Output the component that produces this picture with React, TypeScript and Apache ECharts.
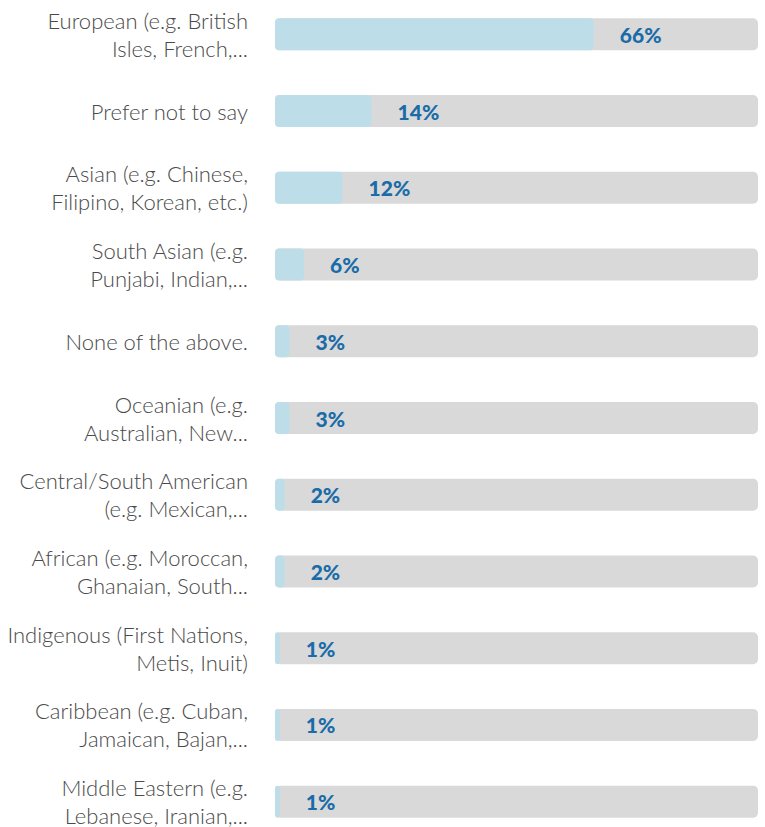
import React, { useEffect, useRef } from "react";
import * as echarts from "echarts";

const categories = [
  "European (e.g. British\nIsles, French,...",
  "Prefer not to say",
  "Asian (e.g. Chinese,\nFilipino, Korean, etc.)",
  "South Asian (e.g.\nPunjabi, Indian,...",
  "None of the above.",
  "Oceanian (e.g.\nAustralian, New...",
  "Central/South American\n(e.g. Mexican,...",
  "African (e.g. Moroccan,\nGhanaian, South...",
  "Indigenous (First Nations,\nMetis, Inuit)",
  "Caribbean (e.g. Cuban,\nJamaican, Bajan,...",
  "Middle Eastern (e.g.\nLebanese, Iranian,...",
];

// bar fill lengths as drawn (percent of the full track)
const barValues = [66, 20, 14, 6, 3, 3, 2, 2, 1, 1, 1];
// value labels as printed
const valueLabels = ["66%", "14%", "12%", "6%", "3%", "3%", "2%", "2%", "1%", "1%", "1%"];

export default function App() {
  const ref = useRef<HTMLDivElement>(null);
  useEffect(() => {
    if (!ref.current) return;
    const chart = echarts.init(ref.current, null, { renderer: "svg" });
    chart.setOption({
      animation: false,
      grid: { left: 275, right: 7, top: 0, bottom: 0, containLabel: false },
      xAxis: { type: "value", min: 0, max: 100, show: false },
      yAxis: {
        type: "category",
        inverse: true,
        data: categories,
        axisLine: { show: false },
        axisTick: { show: false },
        splitLine: { show: false },
        axisLabel: {
          margin: 27,
          fontSize: 22,
          lineHeight: 28,
          fontFamily: "Lato",
          fontWeight: 300,
          color: "#4a4a4a",
          align: "right",
        },
      },
      series: [
        {
          type: "bar",
          data: barValues,
          barWidth: 32,
          itemStyle: { color: "#bddde8", borderRadius: 4 },
          showBackground: true,
          backgroundStyle: { color: "#d9d9d9", borderRadius: 5 },
          label: {
            show: true,
            position: "right",
            distance: 26,
            formatter: (p: any) => valueLabels[p.dataIndex],
            color: "#1a6ca8",
            fontSize: 21,
            fontWeight: 900,
            fontFamily: "Lato",
          },
        },
      ],
    });
    return () => chart.dispose();
  }, []);
  return (
    <div
      style={{ position: "fixed", left: 0, top: 0, width: 765, height: 827, overflow: "hidden", background: "#fff" }}
    >
      <div
        ref={ref}
        style={{ position: "absolute", left: 0, top: -4, width: 765, height: 844 }}
      />
    </div>
  );
}
